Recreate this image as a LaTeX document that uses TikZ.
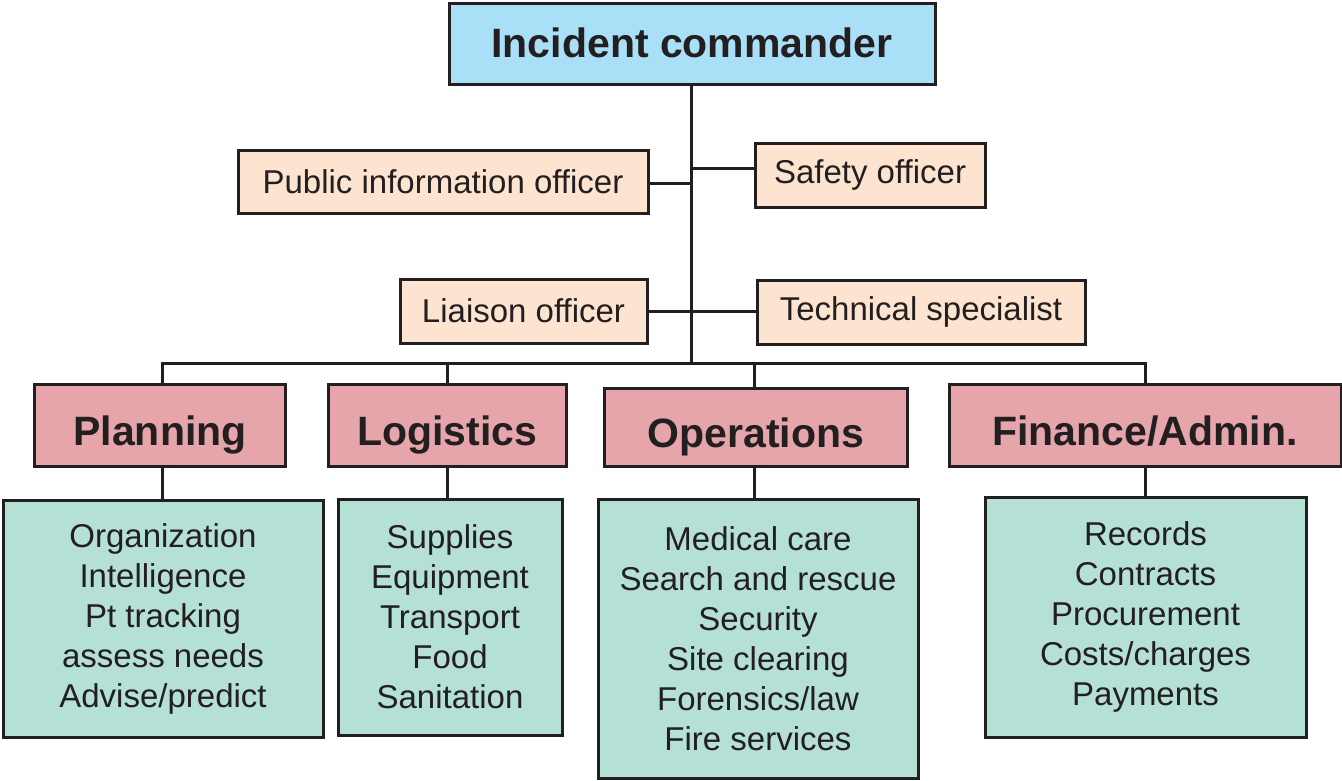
\documentclass[tikz,border=0pt]{standalone}
\usepackage{fontspec}
\setmainfont{Liberation Sans}
\definecolor{icblue}{RGB}{170,224,247}
\definecolor{offpeach}{RGB}{253,228,208}
\definecolor{secpink}{RGB}{229,165,170}
\definecolor{listteal}{RGB}{180,224,213}
\definecolor{ink}{RGB}{35,31,32}
\tikzset{
  box/.style={draw=ink, line width=3pt, inner sep=0pt, text=ink, align=center},
  topbox/.style={box, fill=icblue, font=\fontsize{41}{48}\selectfont\bfseries, text height=29pt, text depth=2pt},
  offbox/.style={box, fill=offpeach, font=\fontsize{33}{40}\selectfont},
  secbox/.style={box, fill=secpink, font=\fontsize{41}{48}\selectfont\bfseries, text height=40pt, text depth=0pt},
  listbox/.style={box, fill=listteal, font=\fontsize{33}{40}\selectfont},
  conn/.style={draw=ink, line width=3pt}
}
\begin{document}
\begin{tikzpicture}[x=1pt,y=1pt]
\useasboundingbox (0,0) rectangle (1342,-780);
% top
\node[topbox, minimum width=486pt, minimum height=81pt] (ic) at (692,-43.5) {Incident commander};
% officers
\node[offbox, minimum width=410pt, minimum height=63pt] (pio) at (443,-181.5) {Public information officer};
\node[offbox, minimum width=230pt, minimum height=64pt] (so) at (870,-175) {Safety officer};
\node[offbox, minimum width=247pt, minimum height=64pt] (lo) at (523.5,-311) {Liaison officer};
\node[offbox, minimum width=328pt, minimum height=64pt] (ts) at (921,-312) {Technical specialist};
% sections
\node[secbox, minimum width=251pt, minimum height=82pt] (plan) at (160,-425) {Planning};
\node[secbox, minimum width=238pt, minimum height=82pt] (logi) at (447,-425) {Logistics};
\node[secbox, minimum width=303pt, minimum height=78pt] (ops) at (756,-427) {Operations};
\node[secbox, minimum width=392pt, minimum height=82pt] (fin) at (1145,-425) {Finance/Admin.};
% lists
\node[listbox, minimum width=320pt, minimum height=237pt] (planl) at (163,-618.5)
  {Organization\\Intelligence\\Pt tracking\\assess needs\\Advise/predict};
\node[listbox, minimum width=224pt, minimum height=236pt] (logil) at (450,-617)
  {Supplies\\Equipment\\Transport\\Food\\Sanitation};
\node[listbox, minimum width=320pt, minimum height=279pt] (opsl) at (758,-638.5)
  {Medical care\\Search and rescue\\Security\\Site clearing\\Forensics/law\\Fire services};
\node[listbox, minimum width=321pt, minimum height=240pt] (finl) at (1145.5,-617)
  {Records\\Contracts\\Procurement\\Costs/charges\\Payments};
% helper coordinates
\coordinate (bus) at (691,-363);
\path ([yshift=7pt]so.west) coordinate (sow);
\path ([yshift=-1.5pt]pio.east) coordinate (pioe);
% connectors
\draw[conn] ([xshift=-1pt]ic.south) -- ([xshift=-1pt]ic.south |- bus);
\draw[conn] (pioe) -- (pioe -| bus);
\draw[conn] (sow) -- (sow -| bus);
\draw[conn] (lo.east) -- (lo.east -| ts.west);
\draw[conn] ([xshift=2pt]plan.north) -- ([xshift=2pt]plan.north |- bus) -- (fin.north |- bus) -- (fin.north);
\draw[conn] (logi.north) -- (logi.north |- bus);
\draw[conn] ([xshift=-2pt]ops.north) -- ([xshift=-2pt]ops.north |- bus);
\draw[conn] ([xshift=2pt]plan.south) -- ([xshift=2pt]plan.south |- planl.north);
\draw[conn] (logi.south) -- (logi.south |- logil.north);
\draw[conn] ([xshift=-2pt]ops.south) -- ([xshift=-2pt]ops.south |- opsl.north);
\draw[conn] (fin.south) -- (fin.south |- finl.north);
\end{tikzpicture}
\end{document}
